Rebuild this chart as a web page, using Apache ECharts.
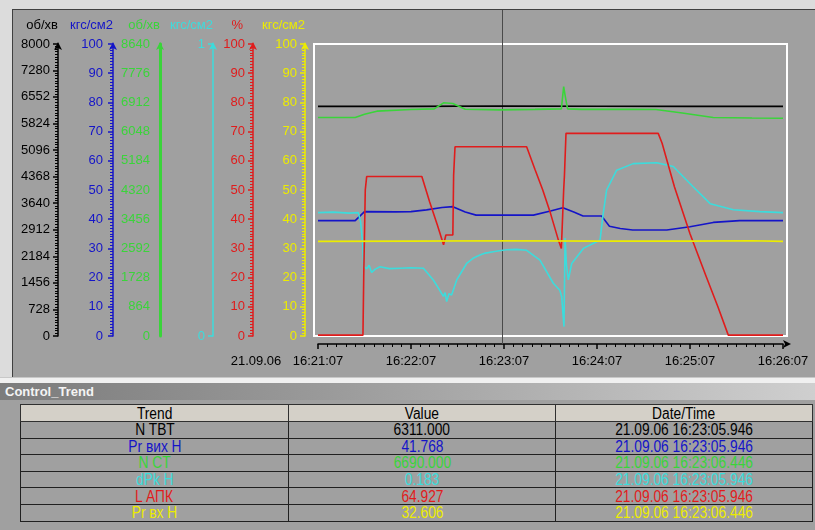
<!DOCTYPE html>
<html>
<head>
<meta charset="utf-8">
<script src="https://cdn.jsdelivr.net/npm/echarts@6/dist/echarts.min.js"></script>
<style>
  html, body { margin:0; padding:0; }
  body { width:815px; height:530px; background:#dcdcdc; overflow:hidden; position:relative; }
  #panel { position:absolute; left:12px; top:9px; width:802px; height:367px; background:#a0a0a0;
           border-top:1px solid #404040; border-left:1px solid #404040; }
  #chart { position:absolute; left:0; top:0; width:815px; height:378px; }
  #strip { position:absolute; left:0; top:377px; width:815px; height:6px; background:#f0f0f0; border-top:1px solid #c8c8c8; box-sizing:border-box; }
  #titlebar { position:absolute; left:0; top:383px; width:815px; height:17px;
              background:linear-gradient(to right,#7c7c7c,#9a9a9a 40%,#cfcfcf);
              color:#f4f4f4; font:bold 13px 'Liberation Sans', Arial, sans-serif; line-height:17px; padding-left:5px; box-sizing:border-box; }
  #tablewrap { position:absolute; left:0; top:400px; width:815px; height:130px; background:#a0a0a0; }
  #trend { position:absolute; left:20px; top:4px; width:792px; border-collapse:collapse; table-layout:fixed;
           font-family:'Liberation Sans', Arial, sans-serif; font-size:16px; }
  #trend th { background:#d4d0c8; border:1px solid #303030; font-weight:normal; height:16px; padding:0; color:#000; line-height:15px; overflow:hidden; }
  #trend td { background:#a0a0a0; border:1px solid #202020; height:15.6px; padding:0; text-align:center; line-height:15px; overflow:hidden; }
  #trend span { display:inline-block; transform:scaleX(0.86); transform-origin:center; white-space:nowrap; }
</style>
</head>
<body>
<div id="panel"></div>
<div id="chart"></div>
<div id="strip"></div>
<div id="titlebar">Control_Trend</div>
<div id="tablewrap"><table id="trend"></table></div>
<script>
// ---------- data ----------
const startDate = '21.09.06';
const xTickLabels = ['16:21:07', '16:22:07', '16:23:07', '16:24:07', '16:25:07', '16:26:07'];
const xStepSeconds = 60;
const axisNames = ['об/хв', 'кгс/см2', 'об/хв', 'кгс/см2', '%', 'кгс/см2'];
const axisMax = [8000, 100, 8640, 0.62, 100, 100];
const axisInterval = [728, 10, 864, 0.62, 10, 10];

// N TBT (rpm, black)
const blackT = [0, 60, 119, 180, 240, 300];
const blackV = [6290, 6292, 6300, 6295, 6290, 6290];
// Pr вих H (kgf/cm2, blue)
const blueT = [0, 24, 30, 50, 60, 70, 80, 87, 95, 102, 139, 150, 158, 165, 171, 183, 188, 195, 203, 225, 240, 255, 272, 300];
const blueV = [39.5, 39.5, 42.6, 42.5, 42.6, 43.2, 44.0, 44.3, 42.5, 41.4, 41.4, 42.8, 43.9, 42.5, 41.1, 41.1, 37.6, 36.8, 36.3, 36.3, 37.4, 38.9, 39.5, 39.5];
// N CT (rpm, green)
const greenT = [0, 24, 30, 38, 60, 75, 81, 87, 95, 117, 140, 157, 158.5, 159.5, 161, 170, 200, 218, 235, 255, 280, 300];
const greenV = [6463, 6463, 6560, 6653, 6700, 6720, 6900, 6880, 6710, 6690, 6705, 6720, 7380, 7100, 6720, 6705, 6705, 6700, 6600, 6465, 6450, 6445];
// dPk H (kgf/cm2, cyan)
const cyanT = [0, 10, 20, 26, 27.5, 28.8, 29.5, 31.4, 33, 34.6, 37, 40, 46, 53, 60, 68, 74.4, 78, 80.9, 82, 83, 84.5, 86.2, 89.5, 95.9, 100, 104.5, 108, 113, 117, 121.7, 128, 134.6, 143.2, 151.8, 156, 157.2, 158.7, 159.4, 160.3, 161.5, 163.7, 171.2, 182, 184, 186.2, 192.7, 203.4, 218.5, 229.2, 242, 253, 268, 285, 300];
const cyanV = [0.262, 0.263, 0.261, 0.262, 0.242, 0.197, 0.147, 0.143, 0.150, 0.135, 0.142, 0.147, 0.143, 0.144, 0.145, 0.144, 0.119, 0.100, 0.084, 0.092, 0.073, 0.090, 0.087, 0.119, 0.154, 0.165, 0.172, 0.176, 0.179, 0.181, 0.183, 0.184, 0.182, 0.161, 0.112, 0.097, 0.084, 0.020, 0.208, 0.150, 0.119, 0.154, 0.186, 0.204, 0.260, 0.310, 0.352, 0.366, 0.368, 0.360, 0.317, 0.281, 0.268, 0.264, 0.262];
// L АПК (%, red)
const redT = [0, 29, 29.5, 30.5, 31.4, 67, 72, 77, 80, 81, 82.5, 87, 87.5, 88.4, 134.6, 140, 145, 150, 155, 157, 158, 158.5, 159, 160, 219.5, 222, 230, 240, 250, 258, 264.7, 300];
const redV = [0.3, 0.3, 20, 50, 54.6, 54.6, 46, 38, 33, 31.2, 34.6, 34.6, 55, 64.8, 64.8, 57, 50, 42, 33, 30, 30, 50, 55, 69.4, 69.4, 66, 51, 35, 21, 10, 0.3, 0.3];
// Pr вх H (kgf/cm2, yellow)
const yellowT = [0, 60, 119, 180, 240, 280, 300];
const yellowV = [32.4, 32.5, 32.6, 32.5, 32.5, 32.6, 32.4];

const cursorT = 118.946;

const trendNames = ['N TBT', 'Pr вих H', 'N CT', 'dPk H', 'L АПК', 'Pr вх H'];
const trendValues = ['6311.000', '41.768', '6690.000', '0.183', '64.927', '32.606'];
const trendTimes = ['21.09.06 16:23:05.946', '21.09.06 16:23:05.946', '21.09.06 16:23:06.446',
                    '21.09.06 16:23:05.946', '21.09.06 16:23:05.946', '21.09.06 16:23:06.446'];
const tableHeaders = ['Trend', 'Value', 'Date/Time'];

// ---------- styles ----------
const colors = ['#000000', '#1414c8', '#3ad43a', '#3cdcdc', '#e01c1c', '#ecec00'];
const axisOffsets = [260, 205, 158, 105, 65, 13];
const labelMargins = [8, 10, 10, 8, 8, 8];
const FONT = "'Liberation Sans', Arial, sans-serif";

const seriesT = [blackT, blueT, greenT, cyanT, redT, yellowT];
const seriesV = [blackV, blueV, greenV, cyanV, redV, yellowV];

function makeYAxis(i) {
  const c = colors[i];
  const plain = (i === 2 || i === 3);
  return {
    type: 'value', position: 'left', offset: axisOffsets[i],
    min: 0, max: axisMax[i], interval: axisInterval[i],
    name: axisNames[i], nameLocation: 'end', nameGap: 19, nameMoveOverlap: false,
    nameTextStyle: { color: c, fontFamily: FONT, fontSize: 13, align: 'right', verticalAlign: 'middle',
                     padding: i === 4 ? [0, 10, 0, 0] : 0 },
    axisLine: { show: true, onZero: false, symbol: ['none', 'arrow'], symbolSize: [6, 8], symbolOffset: [0, 2],
                lineStyle: { color: c, width: i === 2 ? 3 : 1.5 } },
    axisTick: { show: i !== 2, length: 5, lineStyle: { color: c, width: 1.5 } },
    minorTick: { show: !plain, splitNumber: 10, length: 3, lineStyle: { color: c, width: 1 } },
    axisLabel: { show: true, color: c, fontFamily: FONT, fontSize: 13, margin: labelMargins[i],
                 formatter: i === 3 ? (v => String(Math.round(v))) : (v => String(v)) },
    splitLine: { show: false }, minorSplitLine: { show: false }
  };
}

const chart = echarts.init(document.getElementById('chart'), null, { renderer: 'canvas' });
chart.setOption({
  animation: false,
  backgroundColor: 'transparent',
  grid: { left: 318, right: 32, top: 44, bottom: 42, containLabel: false },
  xAxis: {
    type: 'value', min: 0, max: (xTickLabels.length - 1) * xStepSeconds, interval: xStepSeconds,
    offset: 8,
    axisLine: { show: true, onZero: false, symbol: ['none', 'arrow'], symbolSize: [6, 8], symbolOffset: [0, 8],
                lineStyle: { color: '#000', width: 1.5 } },
    axisTick: { show: true, length: 5, lineStyle: { color: '#000', width: 1.5 } },
    minorTick: { show: true, splitNumber: 10, length: 3, lineStyle: { color: '#000', width: 1 } },
    axisLabel: { color: '#000', fontFamily: FONT, fontSize: 13, margin: 11,
                 rich: { d: { width: 62, align: 'left', color: '#000', fontFamily: FONT, fontSize: 13 },
                         p: { width: 62 } },
                 formatter: v => {
                   const k = Math.round(v / xStepSeconds);
                   const s = xTickLabels[k] || '';
                   return k === 0 ? '{d|' + startDate + '}' + s + '{p|}' : s;
                 } },
    splitLine: { show: false }, minorSplitLine: { show: false }
  },
  yAxis: colors.map((c, i) => makeYAxis(i)),
  series: colors.map((c, i) => ({
    type: 'line', yAxisIndex: i, showSymbol: false, symbol: 'none',
    lineStyle: { color: c, width: 1.6 }, itemStyle: { color: c },
    data: seriesT[i].map((t, k) => [t, seriesV[i][k]]),
    z: 3 + i
  }))
});

// plot frame and cursor line, placed through the library's scales
const cx = chart.convertToPixel({ xAxisIndex: 0 }, cursorT);
chart.setOption({
  graphic: [
    { type: 'rect', z: -1, shape: { x: 314, y: 44, width: 473, height: 292 },
      style: { fill: 'none', stroke: '#ffffff', lineWidth: 2 } },
    { type: 'line', z: 1, shape: { x1: Math.round(cx) + 0.5, y1: 10, x2: Math.round(cx) + 0.5, y2: 344 },
      style: { stroke: '#4a4a4a', lineWidth: 1 } }
  ]
});

// table
const tbl = document.getElementById('trend');
let html = '<colgroup><col style="width:268px"><col style="width:267px"><col style="width:257px"></colgroup>';
html += '<tr>' + tableHeaders.map(h => '<th><span>' + h + '</span></th>').join('') + '</tr>';
trendNames.forEach((n, i) => {
  const st = ' style="color:' + colors[i] + '"';
  html += '<tr><td' + st + '><span>' + n + '</span></td><td' + st + '><span>' + trendValues[i] +
          '</span></td><td' + st + '><span>' + trendTimes[i] + '</span></td></tr>';
});
tbl.innerHTML = html;
</script>
</body>
</html>
